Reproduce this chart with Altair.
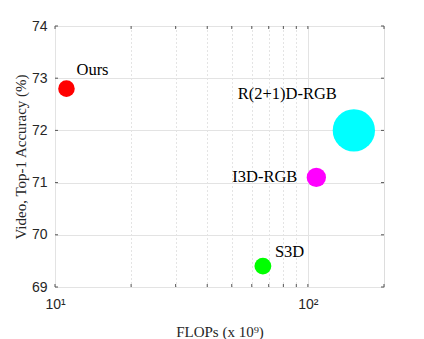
import altair as alt
import pandas as pd

# ---- data ----
models = ["Ours", "S3D", "I3D-RGB", "R(2+1)D-RGB"]
flops = [11.1, 66.4, 108.0, 152.0]          # x 10^9
accuracy = [72.8, 69.4, 71.1, 72.0]         # Top-1 %
params = [8.4, 8.8, 12.0, 63.6]             # bubble size variable (M)
colors = ["#ff0000", "#00ff00", "#ff00ff", "#00ffff"]

y_ticks = [69, 70, 71, 72, 73, 74]
x_major = [10, 100]
x_minor = [20, 30, 40, 50, 60, 70, 80, 90]
x_all_ticks = [10, 20, 30, 40, 50, 60, 70, 80, 90, 100, 200]

W, H = 329, 261

df = pd.DataFrame({"model": models, "flops": flops, "acc": accuracy, "params": params})
xt = pd.DataFrame({"v": x_all_ticks})
yt = pd.DataFrame({"v": y_ticks})
xm = pd.DataFrame({"v": x_minor})

xscale = alt.Scale(type="log", domain=[10, 200], nice=False)
yscale = alt.Scale(domain=[69, 74], nice=False, zero=False)

SERIF = "Liberation Serif"
SANS = "Liberation Sans"

# dotted minor grid (separate top axis, no labels)
minor_grid = alt.Chart(xm).mark_point(opacity=0).encode(
    x=alt.X("v:Q", scale=xscale,
            axis=alt.Axis(orient="top", values=x_minor, labels=False, ticks=False,
                          domain=False, title=None, grid=True, gridColor="#c8c8c8",
                          gridDash=[1, 3], gridWidth=1)),
)

points = alt.Chart(df).mark_circle(opacity=1).encode(
    x=alt.X("flops:Q", scale=xscale,
            axis=alt.Axis(values=x_major, labelExpr="datum.value == 10 ? '10¹' : '10²'",
                          labelFont=SANS, labelFontSize=14, labelColor="#262626",
                          labelFlush=False, labelPadding=10, ticks=False, domain=False,
                          grid=True, gridColor="#e3e3e3", title="FLOPs (x 10⁹)",
                          titleFont=SERIF, titleFontSize=15, titleFontWeight="normal",
                          titleColor="#262626", titleBaseline="alphabetic", titleY=49)),
    y=alt.Y("acc:Q", scale=yscale,
            axis=alt.Axis(values=y_ticks, labelFont=SANS, labelFontSize=14,
                          labelColor="#262626", labelPadding=8, ticks=False, domain=False,
                          labelFlush=False,
                          grid=True, gridColor="#e3e3e3", title="Video, Top-1 Accuracy (%)",
                          titleFont=SERIF, titleFontSize=15, titleFontWeight="normal",
                          titleColor="#262626", titleX=-35, titleY=H / 2,
                          titleBaseline="middle")),
    color=alt.Color("model:N", scale=alt.Scale(domain=models, range=colors), legend=None),
    size=alt.Size("params:Q", scale=alt.Scale(domain=[8.4, 63.6], range=[274, 1787], zero=False),
                  legend=None),
)

def label(name, dx, dy, align):
    return alt.Chart(df).transform_filter(alt.datum.model == name).mark_text(
        font=SERIF, fontSize=16.5, color="black", align=align, baseline="middle", dx=dx, dy=dy
    ).encode(
        x=alt.X("flops:Q", scale=xscale, axis=None),
        y=alt.Y("acc:Q", scale=yscale, axis=None),
        text="model:N",
    )

labels = [
    label("Ours", 10, -19, "left"),
    label("R(2+1)D-RGB", -17, -36, "right"),
    label("I3D-RGB", -19, 0, "right"),
    label("S3D", 12, -14, "left"),
]

tick_col = "#555555"
ticks_bottom = alt.Chart(xt).mark_rule(color=tick_col).encode(
    x=alt.X("v:Q", scale=xscale, axis=None), y=alt.value(H), y2=alt.value(H - 3))
ticks_top = alt.Chart(xt).mark_rule(color=tick_col).encode(
    x=alt.X("v:Q", scale=xscale, axis=None), y=alt.value(0), y2=alt.value(3))
ticks_left = alt.Chart(yt).mark_rule(color=tick_col).encode(
    y=alt.Y("v:Q", scale=yscale, axis=None), x=alt.value(0), x2=alt.value(3))
ticks_right = alt.Chart(yt).mark_rule(color=tick_col).encode(
    y=alt.Y("v:Q", scale=yscale, axis=None), x=alt.value(W - 3), x2=alt.value(W))

chart = alt.layer(
    minor_grid, ticks_bottom, ticks_top, ticks_left, ticks_right, points, *labels
).resolve_axis(x="independent", y="independent").properties(
    width=W, height=H,
    autosize=alt.AutoSizeParams(type="none"),
    padding={"left": 47, "top": 18, "right": 32, "bottom": 56},
).configure_view(stroke="#555555", strokeWidth=1.2).configure(background="white")

chart.save("out.html", embed_options={"renderer": "svg", "actions": False})
